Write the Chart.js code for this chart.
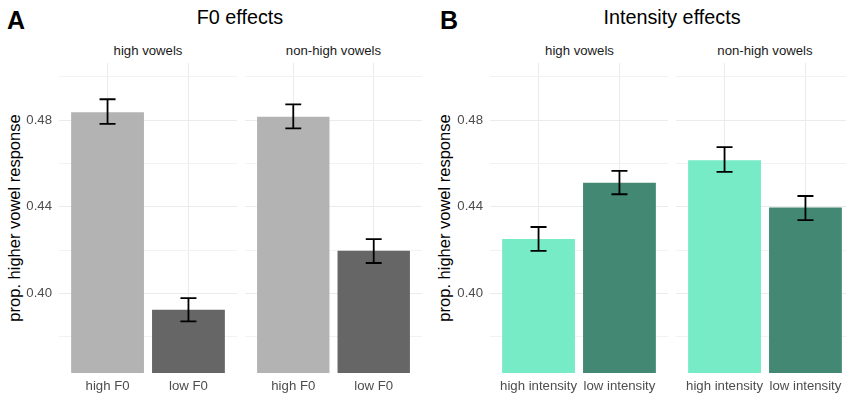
<!DOCTYPE html>
<html><head><meta charset="utf-8">
<script src="https://cdn.jsdelivr.net/npm/chart.js@4.4.1/dist/chart.umd.min.js"></script>
<style>
html,body{margin:0;padding:0;background:#fff;width:846px;height:394px;overflow:hidden;position:relative;font-family:"Liberation Sans",Arial,sans-serif;}
canvas{position:absolute;}
.t{position:absolute;white-space:nowrap;line-height:1;}
.tag{font-weight:bold;font-size:25px;color:#000;}
.title{font-size:19.8px;color:#000;transform:translateX(-50%);}
.strip{font-size:13.2px;color:#1a1a1a;transform:translateX(-50%);}
.ytitle{font-size:16.5px;color:#000;transform:translate(-50%,-50%) rotate(-90deg);}
</style></head><body>
<div class="t tag" style="left:7px;top:8px">A</div>
<div class="t title" style="left:240px;top:8px">F0 effects</div>
<div class="t tag" style="left:440px;top:8px">B</div>
<div class="t title" style="left:672px;top:8px">Intensity effects</div>
<div class="t strip" id="sA1" style="left:148px;top:44px"></div>
<div class="t strip" id="sA2" style="left:333.5px;top:44px"></div>
<div class="t strip" id="sB1" style="left:579.5px;top:44px"></div>
<div class="t strip" id="sB2" style="left:765px;top:44px"></div>
<div class="t ytitle" style="left:14px;top:218px">prop. higher vowel response</div>
<div class="t ytitle" style="left:444px;top:218px">prop. higher vowel response</div>
<canvas id="cA1" width="237" height="331" style="left:0px;top:63px"></canvas>
<canvas id="cA2" width="177" height="331" style="left:245px;top:63px"></canvas>
<canvas id="cB1" width="237" height="331" style="left:431px;top:63px"></canvas>
<canvas id="cB2" width="178" height="331" style="left:676px;top:63px"></canvas>
<script>
// ---- data ----
const facetLabels = ['high vowels', 'non-high vowels'];
const f0Categories = ['high F0', 'low F0'];
const intensityCategories = ['high intensity', 'low intensity'];

const f0HighVowelMean  = [0.4836, 0.3926];
const f0HighVowelLower = [0.4782, 0.3872];
const f0HighVowelUpper = [0.4896, 0.3979];

const f0NonHighMean  = [0.4815, 0.4197];
const f0NonHighLower = [0.4762, 0.4141];
const f0NonHighUpper = [0.4872, 0.4251];

const intHighVowelMean  = [0.4252, 0.4511];
const intHighVowelLower = [0.4197, 0.4458];
const intHighVowelUpper = [0.4307, 0.4566];

const intNonHighMean  = [0.4615, 0.4397];
const intNonHighLower = [0.4561, 0.4339];
const intNonHighUpper = [0.4675, 0.4450];

const yTickValues = [0.38, 0.40, 0.42, 0.44, 0.46, 0.48, 0.50];
const yTickLabels = ['', '0.40', '', '0.44', '', '0.48', ''];

const greyColors = ['#b3b3b3', '#666666'];
const tealColors = ['#76ebc6', '#438873'];

document.getElementById('sA1').textContent = facetLabels[0];
document.getElementById('sA2').textContent = facetLabels[1];
document.getElementById('sB1').textContent = facetLabels[0];
document.getElementById('sB2').textContent = facetLabels[1];

const errorBars = {
  id: 'errorBars',
  afterDatasetsDraw(chart, args, opts) {
    const ctx = chart.ctx, ys = chart.scales.y;
    const ds = chart.data.datasets[0];
    const meta = chart.getDatasetMeta(0);
    ctx.save();
    ctx.strokeStyle = '#000';
    ctx.lineWidth = 1.8;
    meta.data.forEach((el, i) => {
      const x = el.x, half = el.width * opts.capRatio / 2;
      const yt = ys.getPixelForValue(ds.upper[i]);
      const yb = ys.getPixelForValue(ds.lower[i]);
      ctx.beginPath();
      ctx.moveTo(x, yt); ctx.lineTo(x, yb);
      ctx.moveTo(x - half, yt); ctx.lineTo(x + half, yt);
      ctx.moveTo(x - half, yb); ctx.lineTo(x + half, yb);
      ctx.stroke();
    });
    ctx.restore();
  }
};

const FONT = '"Liberation Sans", Arial, sans-serif';

function makeFacet(id, cats, means, lower, upper, colors, showY) {
  new Chart(document.getElementById(id), {
    type: 'bar',
    data: {
      datasets: [{
        data: cats.map((c, i) => ({ x: i + 1, y: means[i] })),
        lower: lower, upper: upper,
        backgroundColor: colors,
        borderWidth: 0,
        categoryPercentage: 1,
        barPercentage: 0.9
      }]
    },
    options: {
      responsive: false, animation: false, events: [],
      layout: { padding: 0 },
      plugins: { legend: { display: false }, tooltip: { enabled: false }, errorBars: { capRatio: 0.22 } },
      scales: {
        x: {
          type: 'linear', min: 0.4, max: 2.6, offset: false,
          afterBuildTicks: s => { s.ticks = cats.map((c, i) => ({ value: i + 1 })); },
          ticks: { callback: (v, i) => cats[i], color: '#4d4d4d', font: { family: FONT, size: 13.2 }, padding: 5, maxRotation: 0, autoSkip: false },
          grid: { color: '#ebebeb', lineWidth: 1, drawTicks: false, offset: false },
          border: { display: false },
          afterFit: s => { s.height = 21; s.paddingLeft = 0; s.paddingRight = 0; }
        },
        y: {
          min: 0.3634, max: 0.5063,
          afterBuildTicks: s => { s.ticks = yTickValues.map(v => ({ value: v })); },
          ticks: { display: showY, callback: (v, i) => yTickLabels[i], color: '#4d4d4d', font: { family: FONT, size: 13.2 }, padding: 7 },
          grid: { color: c => (yTickLabels[c.index] ? '#ebebeb' : '#f2f2f2'), lineWidth: 1, drawTicks: false },
          border: { display: false },
          afterFit: s => { s.width = showY ? 59 : 0; s.paddingTop = 0; s.paddingBottom = 0; }
        }
      }
    },
    plugins: [errorBars]
  });
}

makeFacet('cA1', f0Categories, f0HighVowelMean, f0HighVowelLower, f0HighVowelUpper, greyColors, true);
makeFacet('cA2', f0Categories, f0NonHighMean, f0NonHighLower, f0NonHighUpper, greyColors, false);
makeFacet('cB1', intensityCategories, intHighVowelMean, intHighVowelLower, intHighVowelUpper, tealColors, true);
makeFacet('cB2', intensityCategories, intNonHighMean, intNonHighLower, intNonHighUpper, tealColors, false);
</script>
</body></html>
